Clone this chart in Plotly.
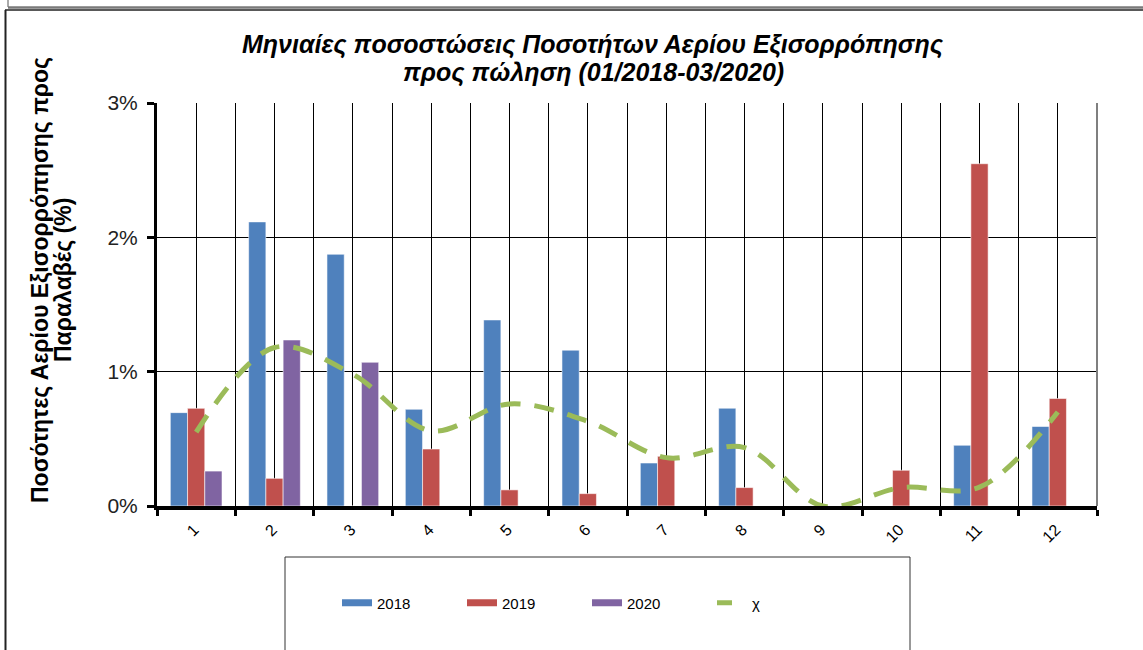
import plotly.graph_objects as go

months = [1, 2, 3, 4, 5, 6, 7, 8, 9, 10, 11, 12]
month_labels = ["1", "2", "3", "4", "5", "6", "7", "8", "9", "10", "11", "12"]
y2018 = [0.695, 2.115, 1.874, 0.72, 1.385, 1.16, 0.32, 0.728, 0.0, 0.0, 0.452, 0.592]
y2019 = [0.727, 0.206, 0.0, 0.424, 0.12, 0.092, 0.37, 0.137, 0.0, 0.266, 2.548, 0.80]
y2020 = [0.26, 1.236, 1.07, None, None, None, None, None, None, None, None, None]
chi = [0.55, 1.18, 0.98, 0.56, 0.76, 0.63, 0.36, 0.435, 0.0, 0.137, 0.14, 0.70]

title_lines = ["Μηνιαίες ποσοστώσεις Ποσοτήτων Αερίου Εξισορρόπησης",
               "προς πώληση (01/2018-03/2020)"]
ytitle_lines = ["Ποσότητες Αερίου Εξισορρόπησης προς", "Παραλαβές (%)"]

C18, C19, C20, CX = "#4F81BD", "#C0504D", "#8064A2", "#9BBB59"
FONT = "Liberation Sans, Arial, sans-serif"

W, H = 1143, 650
L, R, T, B = 157, 1097, 103, 506


def px(x):
    return (x - L) / (R - L)


def py(y):
    return (B - y) / (B - T)


fig = go.Figure()
edge = dict(width=0.8, color="rgba(255,255,255,0.7)")
fig.add_bar(x=months, y=y2018, name="2018", marker=dict(color=C18, line=edge), showlegend=False)
fig.add_bar(x=months, y=y2019, name="2019", marker=dict(color=C19, line=edge), showlegend=False)
fig.add_bar(x=months, y=y2020, name="2020", marker=dict(color=C20, line=edge), showlegend=False)
fig.add_scatter(x=months, y=chi, name="χ", mode="lines",
                line=dict(color=CX, width=5, dash="20px,14px", shape="spline", smoothing=1.0),
                showlegend=False)

# legend entries (line-style samples as in the original)
for nm, col, dash in [("2018", C18, "solid"), ("2019", C19, "solid"), ("2020", C20, "solid"), ("χ", CX, "dash")]:
    fig.add_scatter(x=[None], y=[None], mode="lines", name=nm,
                    line=dict(color=col, width=7 if dash == "solid" else 5, dash=dash))

fig.update_layout(
    width=W, height=H,
    margin=dict(l=L, r=W - R, t=T, b=H - B, pad=0),
    paper_bgcolor="white", plot_bgcolor="white",
    barmode="group", bargap=0.34, bargroupgap=0,
    font=dict(family=FONT, color="#000"),
    showlegend=True,
    legend=dict(orientation="h", x=px(337), y=py(603), xanchor="left", yanchor="middle",
                entrywidth=80, entrywidthmode="pixels", font=dict(size=15, family=FONT),
                bgcolor="rgba(0,0,0,0)", borderwidth=0, traceorder="normal"),
    xaxis=dict(range=[0.5, 12.5], tickvals=months, ticktext=month_labels, tickangle=-45,
               ticks="", showgrid=True, gridcolor="#000", gridwidth=1,
               showline=True, linecolor="#000", linewidth=4, zeroline=False,
               tickfont=dict(size=16, family=FONT), ticklabelshift=-2, ticklabelstandoff=4,
               minor=dict(tick0=0.5, dtick=1, ticks="outside", ticklen=6, tickwidth=3,
                          tickcolor="#000", showgrid=True, gridcolor="#000", gridwidth=1)),
    yaxis=dict(range=[0, 3], tickvals=[0, 1, 2, 3], ticktext=["0%", "1%", "2%", "3%"],
               ticks="outside", ticklen=7, tickwidth=3, tickcolor="#000",
               showgrid=True, gridcolor="#000", gridwidth=1,
               showline=True, linecolor="#000", linewidth=3, zeroline=False,
               ticklabelstandoff=5,
               tickfont=dict(size=21, family=FONT, color="#222")),
)

shapes = []
shapes.append(dict(type="line", xref="paper", yref="paper", x0=1, x1=1, y0=0, y1=1,
                   line=dict(color="#7f7f7f", width=2)))
shapes.append(dict(type="line", xref="paper", yref="paper", x0=px(8), x1=px(8), y0=py(0), y1=py(7),
                   line=dict(color="#555", width=1)))
shapes.append(dict(type="line", xref="paper", yref="paper", x0=px(8), x1=px(1143), y0=py(7.5), y1=py(7.5),
                   line=dict(color="#7a7a7a", width=2.5)))
shapes.append(dict(type="line", xref="paper", yref="paper", x0=px(5), x1=px(1143), y0=py(10), y1=py(10),
                   line=dict(color="#222", width=1.5)))
shapes.append(dict(type="line", xref="paper", yref="paper", x0=px(5.5), x1=px(5.5), y0=py(10), y1=py(652),
                   line=dict(color="#222", width=2)))
shapes.append(dict(type="rect", xref="paper", yref="paper", x0=px(285), x1=px(910), y0=py(557), y1=py(660),
                   line=dict(color="#333", width=1), fillcolor="rgba(0,0,0,0)"))
fig.update_layout(shapes=shapes)

annotations = [
    dict(text="<b><i>" + title_lines[0] + "</i></b>", xref="paper", yref="paper",
         x=px(593), y=py(45), xanchor="center", yanchor="middle", showarrow=False,
         font=dict(size=25, family=FONT, color="#000")),
    dict(text="<b><i>" + title_lines[1] + "</i></b>", xref="paper", yref="paper",
         x=px(593), y=py(73), xanchor="center", yanchor="middle", showarrow=False,
         font=dict(size=25, family=FONT, color="#000")),
    dict(text="<b>" + ytitle_lines[0] + "</b>", xref="paper", yref="paper",
         x=px(40), y=py(280), xanchor="center", yanchor="middle", textangle=-90,
         showarrow=False, font=dict(size=23, family=FONT, color="#000")),
    dict(text="<b>" + ytitle_lines[1] + "</b>", xref="paper", yref="paper",
         x=px(63), y=py(280), xanchor="center", yanchor="middle", textangle=-90,
         showarrow=False, font=dict(size=23, family=FONT, color="#000")),
]
fig.update_layout(annotations=annotations)

fig.write_html("out.html", config={"displayModeBar": False},
               post_script="document.body.style.margin='0';document.body.style.overflow='hidden';")
